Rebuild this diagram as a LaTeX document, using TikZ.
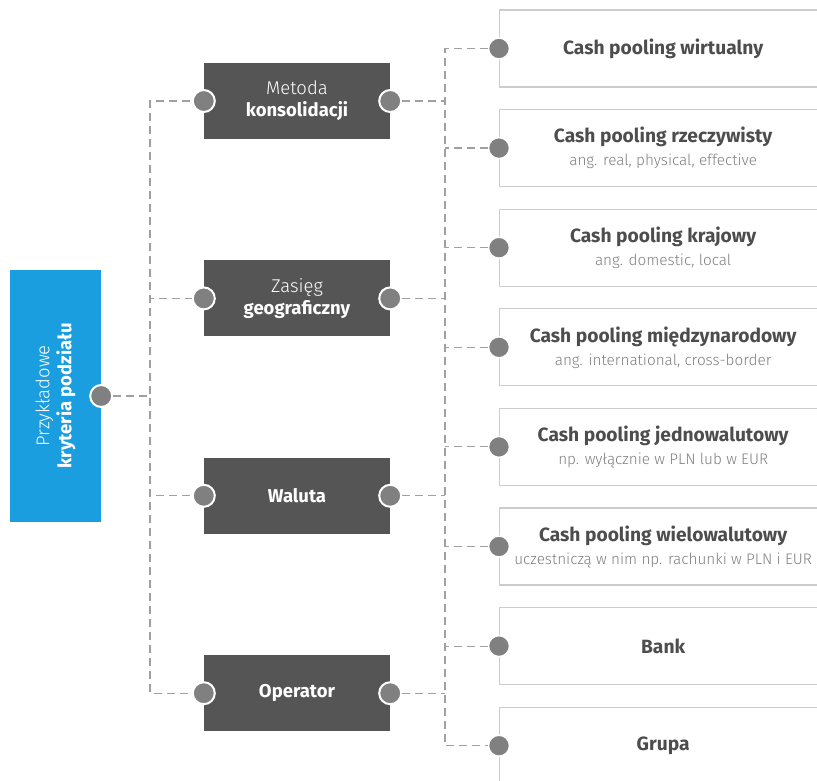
\documentclass[tikz,border=0pt]{standalone}
\usepackage{fontspec}
\setmainfont{Fira Sans}
\newfontfamily\lightfont{Fira Sans Light}
\usetikzlibrary{positioning}
\definecolor{critblue}{HTML}{1A9EE0}
\definecolor{darkbox}{HTML}{555555}
\definecolor{dotgray}{HTML}{808080}
\definecolor{linkgray}{HTML}{A0A0A0}
\definecolor{boxline}{HTML}{CCCCCC}
\definecolor{titlegray}{HTML}{4D4D4D}
\definecolor{subgray}{HTML}{7F7F7F}
\newcommand{\sub}[1]{{\lightfont\mdseries\color{subgray}\fontsize{15.3}{23}\selectfont #1}}

\begin{document}
\begin{tikzpicture}[x=1pt,y=1pt,
critbox/.style={fill=critblue,text=white,rotate=90,minimum width=252pt,minimum height=91pt,align=center,font=\fontsize{18.5}{22}\selectfont},
catbox/.style={fill=darkbox,text=white,minimum width=186pt,minimum height=76pt,align=center,font=\fontsize{18.5}{22}\selectfont},
kindbox/.style={draw=boxline,line width=1.3pt,anchor=west,minimum width=327pt,minimum height=77pt,align=center,text=titlegray,font=\fontsize{19.2}{23}\selectfont\bfseries},
dot/.style={circle,fill=dotgray,draw=white,line width=2pt,minimum size=22pt,inner sep=0pt},
kinddot/.style={circle,fill=dotgray,draw=white,line width=1.5pt,minimum size=21pt,inner sep=0pt},
link/.style={draw=linkgray,dash pattern=on 8pt off 5pt,line width=1.2pt}]
\useasboundingbox (0,0) rectangle (817,780);
\clip (0,0) rectangle (817,780);

% criterion
\node (crit) [critbox] at (55.5,384) {{\lightfont Przykładowe}\\\textbf{kryteria podziału}};

% categories
\node (meth) [catbox] at (297,679) {{\lightfont Metoda}\\\textbf{konsolidacji}};
\node (geo) [catbox,below=121pt of meth] {{\lightfont Zasięg}\\\textbf{geograficzny}};
\node (cur) [catbox,below=121pt of geo] {\textbf{Waluta}};
\node (oper) [catbox,below=121pt of cur] {\textbf{Operator}};

% kinds
\node (virt) [kindbox] at (499,731.5) {Cash pooling wirtualny};
\node (real) [kindbox,below=21.3pt of virt] {Cash pooling rzeczywisty\\\sub{ang. real, physical, effective}};
\node (dom) [kindbox,below=21.3pt of real] {Cash pooling krajowy\\\sub{ang. domestic, local}};
\node (intl) [kindbox,below=21.3pt of dom] {Cash pooling międzynarodowy\\\sub{ang. international, cross-border}};
\node (single) [kindbox,below=21.3pt of intl] {Cash pooling jednowalutowy\\\sub{np. wyłącznie w PLN lub w EUR}};
\node (multi) [kindbox,below=21.3pt of single] {Cash pooling wielowalutowy\\\sub{uczestniczą w nim np. rachunki w PLN i EUR}};
\node (bank) [kindbox,below=21.3pt of multi] {Bank};
\node (group) [kindbox,below=21.3pt of bank] {Grupa};

% dots
\node (crit-dot) [dot] at (crit.south) {};
\foreach \b in {meth,geo,cur,oper} {
  \node (\b-in) [dot] at (\b.west) {};
  \node (\b-out) [dot] at (\b.east) {};
}
\foreach \b in {virt,real,dom,intl,single,multi,bank,group}
  \node (\b-in) [kinddot] at (\b.west) {};

% links
\coordinate (ljoint) at (150,384);
\coordinate (rbus) at (445,0);
\foreach \b in {meth,geo,cur,oper}
  \draw[link] (crit-dot) -- (ljoint) |- (\b-in);
\draw[link] (virt-in) -| (group-in -| rbus) -- (group-in);
\foreach \b in {meth,geo,cur,oper}
  \draw[link] (\b-out) -- (\b-out -| rbus);
\foreach \b in {real,dom,intl,single,multi,bank}
  \draw[link] (\b-in) -- (\b-in -| rbus);
\end{tikzpicture}
\end{document}
